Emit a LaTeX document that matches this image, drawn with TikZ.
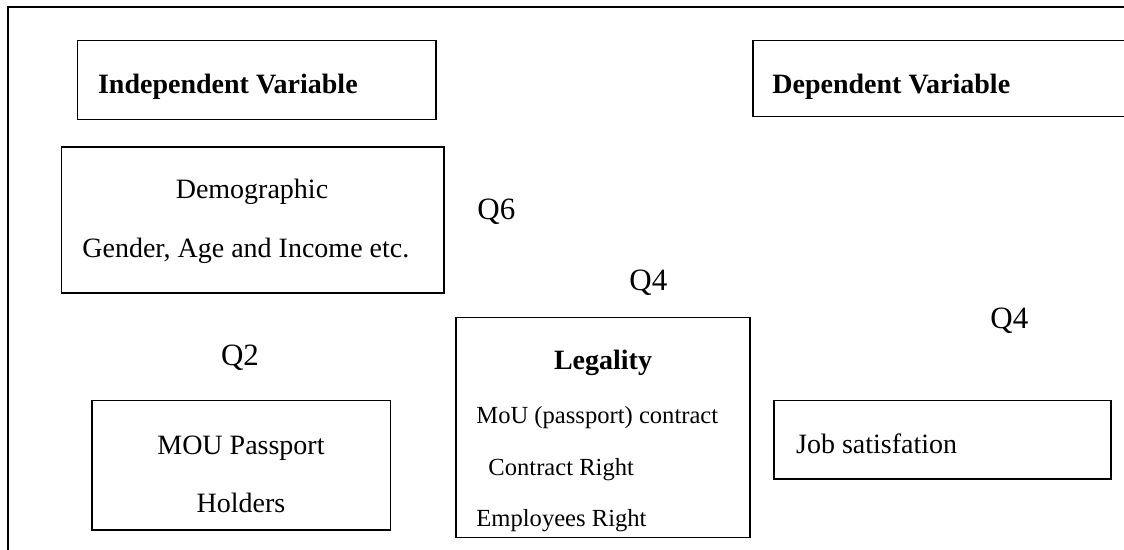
\documentclass[tikz,border=0pt]{standalone}
\usepackage{fontspec}
\setmainfont{Liberation Serif}
\begin{document}
\begin{tikzpicture}[x=0.5pt,y=-0.5pt,
  box/.style={draw=black, line width=0.6pt, rectangle, inner sep=0pt},
  txt/.style={inner sep=0pt, font=\fontsize{14}{16.8}\selectfont},
  stxt/.style={inner sep=0pt, font=\fontsize{12.3}{14.8}\selectfont},
  btxt/.style={inner sep=0pt, font=\fontsize{14}{16.8}\selectfont\bfseries},
  qtxt/.style={inner sep=0pt, anchor=base west, font=\fontsize{15.5}{18}\selectfont},
  frame/.style={draw=black, line width=0.7pt}]
\useasboundingbox (0,0) rectangle (1124,550);
% outer frame (top and left edges)
\coordinate (fTR) at (1140,7);
\coordinate (fTL) at (8,7);
\coordinate (fBL) at (8,560);
\draw[frame] (fTR) -- (fTL) -- (fBL);
% boxes
\node[box, minimum width=179.15pt, minimum height=39.4pt] (indep) at (256.85,80.1) {};
\node[box, minimum width=190.5pt, minimum height=38pt] (dep) at (943.5,78.7) {};
\node[box, minimum width=191.15pt, minimum height=73pt] (demo) at (252.85,220) {};
\node[box, minimum width=147pt, minimum height=109.9pt] (legal) at (603,427.6) {};
\node[box, minimum width=149.35pt, minimum height=64.65pt] (mou) at (241.35,465.35) {};
\node[box, minimum width=168.5pt, minimum height=39.15pt] (job) at (942.5,439.85) {};
% texts
\node[btxt, anchor=base west] (tindep) at (97.7,94) {Independent Variable};
\node[btxt, anchor=base west] (tdep) at (772,94) {Dependent Variable};
\node[txt, anchor=base] (tdemo1) at (252,199) {Demographic};
\node[txt, anchor=base west] (tdemo2) at (82,258) {Gender, Age and Income etc.};
\node[btxt, anchor=base] (tlegal) at (603,370) {Legality};
\node[stxt, anchor=base west] (tlegal1) at (476,423) {MoU (passport) contract};
\node[stxt, anchor=base west] (tlegal2) at (488,475) {Contract Right};
\node[stxt, anchor=base west] (tlegal3) at (476,526) {Employees Right};
\node[txt, anchor=base] (tmou1) at (241,454) {MOU Passport};
\node[txt, anchor=base] (tmou2) at (241,512) {Holders};
\node[txt, anchor=base west] (tjob) at (795.7,453) {Job satisfation};
% question labels
\node[qtxt] (q6) at (477,220) {Q6};
\node[qtxt] (q4a) at (629,291) {Q4};
\node[qtxt] (q4b) at (990,329) {Q4};
\node[qtxt] (q2) at (220.7,366) {Q2};
\end{tikzpicture}
\end{document}
